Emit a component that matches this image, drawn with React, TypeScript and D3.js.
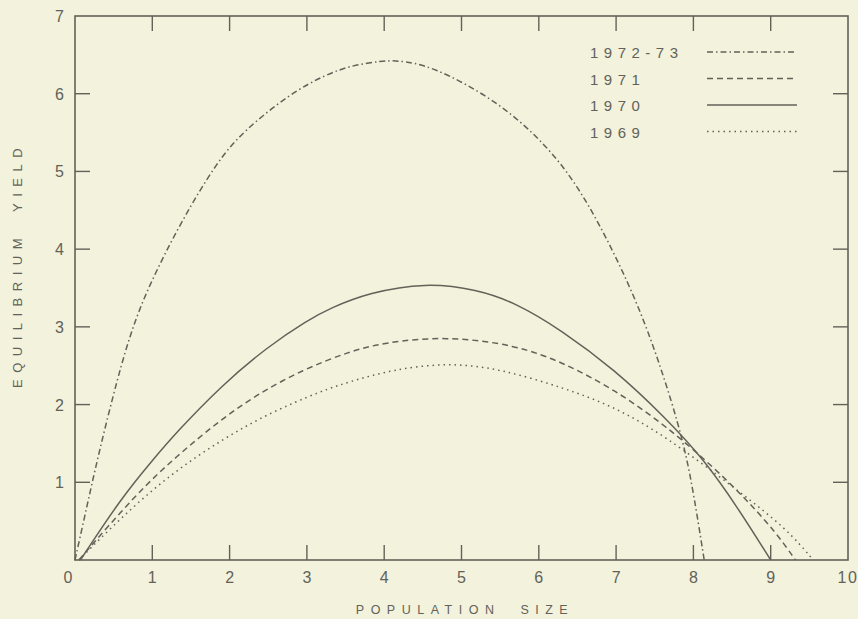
import * as d3 from 'd3';

// x = population size, y = equilibrium yield
const x7273 = [0, 0.13, 0.3, 0.56, 0.73, 0.94, 1.37, 1.84, 2.18, 2.78, 3.25, 3.6, 3.97, 4.15, 4.6, 5.48, 6.12, 6.55, 6.98, 7.41, 7.84, 7.99, 8.14];
const y7273 = [0, 0.58, 1.35, 2.38, 2.95, 3.5, 4.35, 5.13, 5.52, 6.0, 6.25, 6.37, 6.42, 6.43, 6.37, 5.9, 5.32, 4.75, 3.95, 3.0, 1.67, 0.94, 0];

const x1971 = [0.05, 0.8, 1.32, 1.84, 2.35, 2.95, 3.54, 4.0, 4.79, 5.7, 6.34, 6.98, 7.63, 8.35, 9.0, 9.32];
const y1971 = [0, 0.86, 1.34, 1.77, 2.13, 2.45, 2.68, 2.8, 2.88, 2.77, 2.53, 2.19, 1.74, 1.12, 0.45, 0];

const x1970 = [0.07, 0.6, 1.0, 1.3, 1.9, 2.5, 3.0, 3.3, 3.8, 4.54, 5.2, 5.7, 6.29, 6.98, 7.63, 8.14, 8.57, 9.0];
const y1970 = [0, 0.8, 1.28, 1.63, 2.25, 2.75, 3.08, 3.24, 3.44, 3.57, 3.48, 3.31, 2.96, 2.45, 1.84, 1.29, 0.68, 0];

const x1969 = [0.05, 0.6, 1.23, 1.9, 2.51, 3.2, 3.54, 4.1, 4.83, 5.5, 6.34, 6.98, 7.63, 8.57, 9.21, 9.55];
const y1969 = [0, 0.55, 1.1, 1.55, 1.89, 2.18, 2.29, 2.45, 2.54, 2.46, 2.21, 1.97, 1.6, 0.9, 0.4, 0];

const seriesNames = ['1972-73', '1971', '1970', '1969'];
const seriesX = [x7273, x1971, x1970, x1969];
const seriesY = [y7273, y1971, y1970, y1969];
const dashes = ['6,3,1.5,3', '6,4', '', '1.5,4'];

const xTicks = [0, 1, 2, 3, 4, 5, 6, 7, 8, 9, 10];
const yTicks = [1, 2, 3, 4, 5, 6, 7];

const W = 858;
const H = 619;
const BG = '#f3f2dd';
const INK = '#626259';
const FONT = '"Liberation Sans", Arial, sans-serif';

export default function App() {
  const x = d3.scaleLinear().domain([0, 10]).range([75, 848]);
  const y = d3.scaleLinear().domain([0, 7]).range([560, 16]);
  const [x0, x1] = x.range();
  const [y0, y1] = y.range();

  // readings are a bit noisy, so smooth with a B-spline through them
  const line = d3
    .line<[number, number]>()
    .x((d) => x(d[0]))
    .y((d) => y(d[1]))
    .curve(d3.curveBasis);

  const TICK = 15;

  return (
    <div style={{ position: 'fixed', left: 0, top: 0, width: W, height: H, background: BG }}>
      <svg width={W} height={H} style={{ display: 'block' }}>
        <rect x={0} y={0} width={W} height={H} fill={BG} />

        {/* frame */}
        <rect x={x0} y={y1} width={x1 - x0} height={y0 - y1} fill="none" stroke={INK} strokeWidth={1.6} />

        {/* ticks on all four sides, pointing in */}
        {xTicks.slice(1, -1).map((t) => (
          <g key={'xt' + t}>
            <line x1={x(t)} x2={x(t)} y1={y0} y2={y0 - TICK} stroke={INK} strokeWidth={1.4} />
            <line x1={x(t)} x2={x(t)} y1={y1} y2={y1 + TICK} stroke={INK} strokeWidth={1.4} />
          </g>
        ))}
        {yTicks.slice(0, -1).map((t) => (
          <g key={'yt' + t}>
            <line x1={x0} x2={x0 + TICK} y1={y(t)} y2={y(t)} stroke={INK} strokeWidth={1.4} />
            <line x1={x1} x2={x1 - TICK} y1={y(t)} y2={y(t)} stroke={INK} strokeWidth={1.4} />
          </g>
        ))}

        {/* tick labels */}
        {xTicks.map((t) => (
          <text
            key={'xl' + t}
            x={t === 0 ? x(t) - 7 : x(t)}
            y={y0 + 23}
            textAnchor="middle"
            fontFamily={FONT}
            fontSize={16}
            fill={INK}
            letterSpacing={t === 10 ? 1.5 : 0}
          >
            {t}
          </text>
        ))}
        {yTicks.map((t) => (
          <text
            key={'yl' + t}
            x={64}
            y={y(t) + 6}
            textAnchor="end"
            fontFamily={FONT}
            fontSize={16}
            fill={INK}
          >
            {t}
          </text>
        ))}

        {/* axis titles */}
        <text
          x={465}
          y={614}
          textAnchor="middle"
          fontFamily={FONT}
          fontSize={12.5}
          letterSpacing={6.5}
          fill={INK}
          style={{ whiteSpace: 'pre' }}
        >
          {'POPULATION  SIZE'}
        </text>
        <text
          transform="translate(22,265) rotate(-90)"
          textAnchor="middle"
          fontFamily={FONT}
          fontSize={13}
          letterSpacing={6.5}
          fill={INK}
          style={{ whiteSpace: 'pre' }}
        >
          {'EQUILIBRIUM  YIELD'}
        </text>

        {/* curves */}
        {seriesNames.map((name, i) => {
          const pts = seriesX[i].map((v, j) => [v, seriesY[i][j]] as [number, number]);
          return (
            <path
              key={name}
              d={line(pts) || ''}
              fill="none"
              stroke={INK}
              strokeWidth={1.5}
              strokeDasharray={dashes[i] || undefined}
            />
          );
        })}

        {/* legend */}
        {seriesNames.map((name, i) => {
          const ly = 52 + i * 26.5;
          return (
            <g key={'lg' + name}>
              <text
                x={590}
                y={ly + 6}
                fontFamily={FONT}
                fontSize={15}
                letterSpacing={5.5}
                fill={INK}
              >
                {name}
              </text>
              <line
                x1={707}
                x2={797}
                y1={ly}
                y2={ly}
                stroke={INK}
                strokeWidth={1.5}
                strokeDasharray={dashes[i] || undefined}
              />
            </g>
          );
        })}
      </svg>
    </div>
  );
}
